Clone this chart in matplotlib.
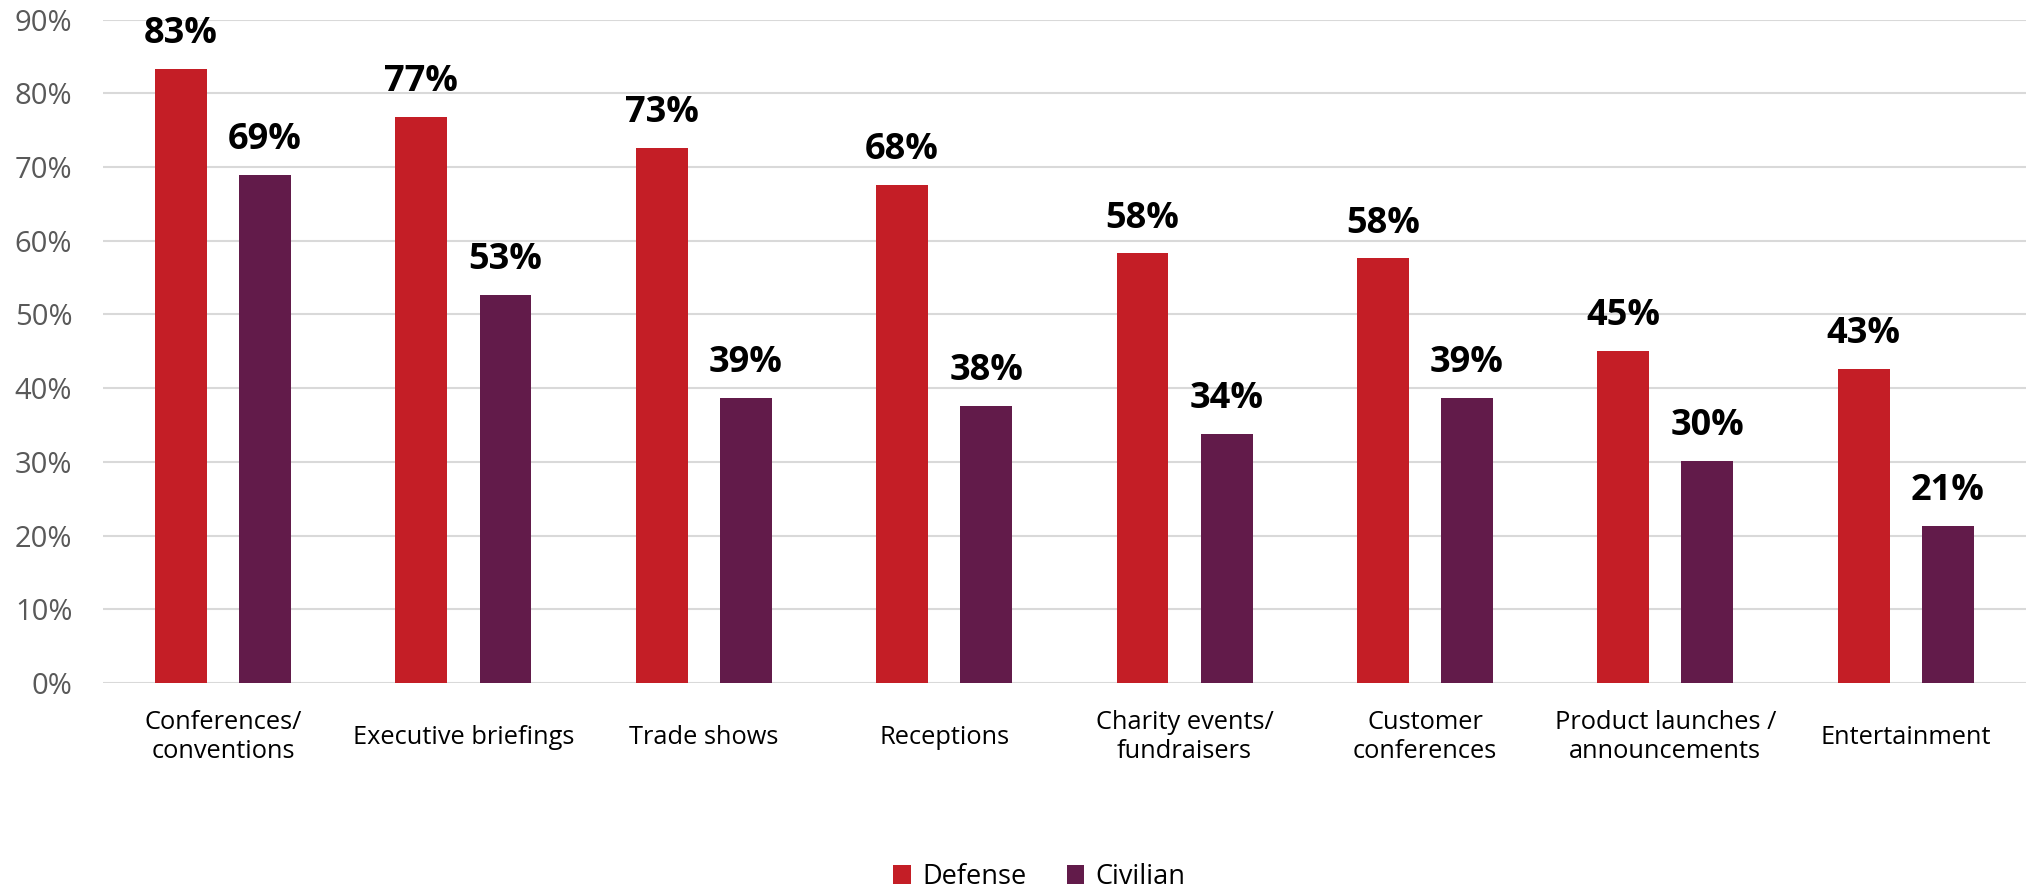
import numpy as np
import matplotlib
matplotlib.use("Agg")
import matplotlib.pyplot as plt

plt.rcParams.update({
    'font.family': ['Open Sans', 'DejaVu Sans'],
})

categories = ['Conferences/\nconventions', 'Executive briefings', 'Trade shows',
              'Receptions', 'Charity events/\nfundraisers', 'Customer\nconferences',
              'Product launches /\nannouncements', 'Entertainment']
defense = [83.3, 76.8, 72.6, 67.6, 58.3, 57.6, 45.1, 42.6]
civilian = [68.9, 52.7, 38.7, 37.6, 33.8, 38.7, 30.1, 21.3]
yticks = [0, 10, 20, 30, 40, 50, 60, 70, 80, 90]

RED = '#C41E26'
PURPLE = '#621B4A'

fig = plt.figure(figsize=(20.34, 8.89), dpi=100)
ax = fig.add_axes([0.0506, 0.2317, 0.9454, 0.7463])

x = np.arange(len(categories))
w = 0.216
off = 0.175
b1 = ax.bar(x - off, defense, w, color=RED, label='Defense', zorder=3)
b2 = ax.bar(x + off, civilian, w, color=PURPLE, label='Civilian', zorder=3)

# value labels above each bar
for bars, vals in ((b1, defense), (b2, civilian)):
    for rect, v in zip(bars, vals):
        ax.annotate(f'{round(v)}%', (rect.get_x() + rect.get_width() / 2, v),
                    xytext=(0, 12), textcoords='offset points',
                    ha='center', va='bottom', fontsize=26, fontweight='bold',
                    color='black')

ax.set_xlim(-0.5, len(categories) - 0.5)
ax.set_ylim(0, 90)
ax.set_yticks(yticks)
ax.set_yticklabels([f'{t}%' for t in yticks])
ax.grid(axis='y', color='#D9D9D9', linewidth=1.5, zorder=0)
for s in ax.spines.values():
    s.set_visible(False)

ax.tick_params(axis='y', length=0, pad=22, labelsize=21, labelcolor='#595959')
ax.set_xticks(x)
ax.set_xticklabels(categories)
ax.tick_params(axis='x', length=0, pad=39, labelsize=18.3, labelcolor='black')
for lab in ax.get_xticklabels():
    lab.set_verticalalignment('center')
    lab.set_linespacing(1.2)

fig.legend(handles=[b1, b2], labels=['Defense', 'Civilian'], loc='center',
           bbox_to_anchor=(0.511, 0.0135), ncol=2, frameon=False, fontsize=19.5,
           handlelength=0.65, handleheight=0.65, handletextpad=0.4, columnspacing=1.5)

fig.savefig('out.png', dpi=100)
